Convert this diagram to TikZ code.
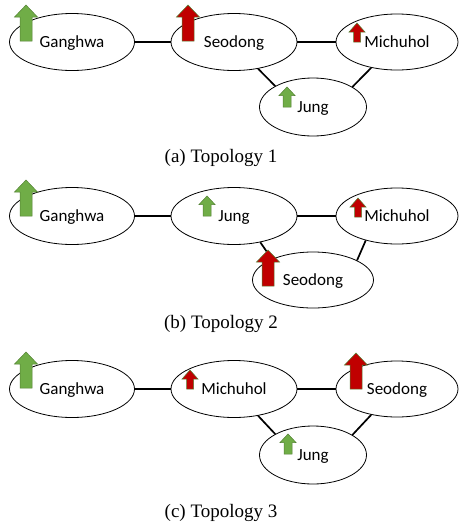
\documentclass[tikz,border=0pt]{standalone}
\usepackage{fontspec}
\setmainfont{Liberation Serif}
\newfontfamily\calibri{Carlito}
\usetikzlibrary{shapes.geometric}
\definecolor{ogreen}{RGB}{112,173,71}
\definecolor{ored}{RGB}{192,0,0}
\definecolor{oline}{RGB}{84,130,53}
\tikzset{
  town/.style={ellipse, draw=black, line width=0.8pt, fill=white, inner sep=0pt,
     text depth=0pt, minimum width=125pt, minimum height=57pt, font=\calibri\fontsize{17}{20}\selectfont},
  jungsize/.style={minimum width=107pt, minimum height=58pt},
  link/.style={line width=1.7pt, black},
  captext/.style={font=\fontsize{19}{22}\selectfont},
  gup/.style={fill=ogreen, draw=oline, line width=0.5pt},
  rup/.style={fill=ored, draw=oline, line width=0.5pt},
  bigup/.pic={\path[pic actions] (0,0) -- (11.5,12) -- (6,12) -- (6,36) -- (-6,36) -- (-6,12) -- (-11.5,12) -- cycle;},
  midup/.pic={\path[pic actions] (0,0) -- (8,8.5) -- (4,8.5) -- (4,20) -- (-4,20) -- (-4,8.5) -- (-8,8.5) -- cycle;},
  smallup/.pic={\path[pic actions] (0,0) -- (8,9) -- (3.5,9) -- (3.5,19) -- (-3.5,19) -- (-3.5,9) -- (-8,9) -- cycle;}
}
\begin{document}
\begin{tikzpicture}[x=1pt,y=-1pt]
\useasboundingbox (0,0) rectangle (460,528);
% ---------- (a)
\node[town] (ga) at (72,42) {Ganghwa};
\node[town, minimum width=126pt] (sa) at (234,42) {Seodong};
\node[town, minimum width=122pt, minimum height=56pt] (ma) at (397,42) {Michuhol};
\node[town, jungsize] (ja) at (313,107) {Jung};
\draw[link] (ga.east) -- (sa.west);
\draw[link] (sa.east) -- (ma.west);
\draw[link] (sa.-48) -- (ja.151);
\draw[link] (ma.-135) -- (ja.27);
\pic[gup] at (26,5) {bigup};
\pic[rup] at (188,5) {bigup};
\pic[rup] at (357,23) {smallup};
\pic[gup] at (287,87) {midup};
\node[captext] (capa) at (221,158) {(a) Topology 1};
% ---------- (b)
\node[town] (gb) at (72,216) {Ganghwa};
\node[town, minimum width=126pt] (jb) at (234,216) {Jung};
\node[town, minimum width=122pt, minimum height=56pt] (mb) at (397,216) {Michuhol};
\node[town, minimum width=121pt, minimum height=56pt] (sb) at (313,280) {Seodong};
\draw[link] (gb.east) -- (jb.west);
\draw[link] (jb.east) -- (mb.west);
\draw[link] (jb.-45) -- (sb.153);
\draw[link] (mb.-142) -- (sb.24);
\pic[gup] at (26,180) {bigup};
\pic[gup] at (207,196) {midup};
\pic[rup] at (358,198) {smallup};
\pic[rup] at (268,250) {bigup};
\node[captext] (capb) at (221,324) {(b) Topology 2};
% ---------- (c)
\node[town] (gc) at (72,389) {Ganghwa};
\node[town, minimum width=126pt] (mc) at (234,389) {Michuhol};
\node[town, minimum width=122pt, minimum height=56pt] (sc) at (397,389) {Seodong};
\node[town, jungsize] (jc) at (313,455) {Jung};
\draw[link] (gc.east) -- (mc.west);
\draw[link] (mc.east) -- (sc.west);
\draw[link] (mc.-48) -- (jc.151);
\draw[link] (sc.-135) -- (jc.27);
\pic[gup] at (26,352) {bigup};
\pic[rup] at (190,370) {smallup};
\pic[rup] at (356,353) {bigup};
\pic[gup] at (288,434) {midup};
\node[captext] (capc) at (221,513) {(c) Topology 3};
\end{tikzpicture}
\end{document}
